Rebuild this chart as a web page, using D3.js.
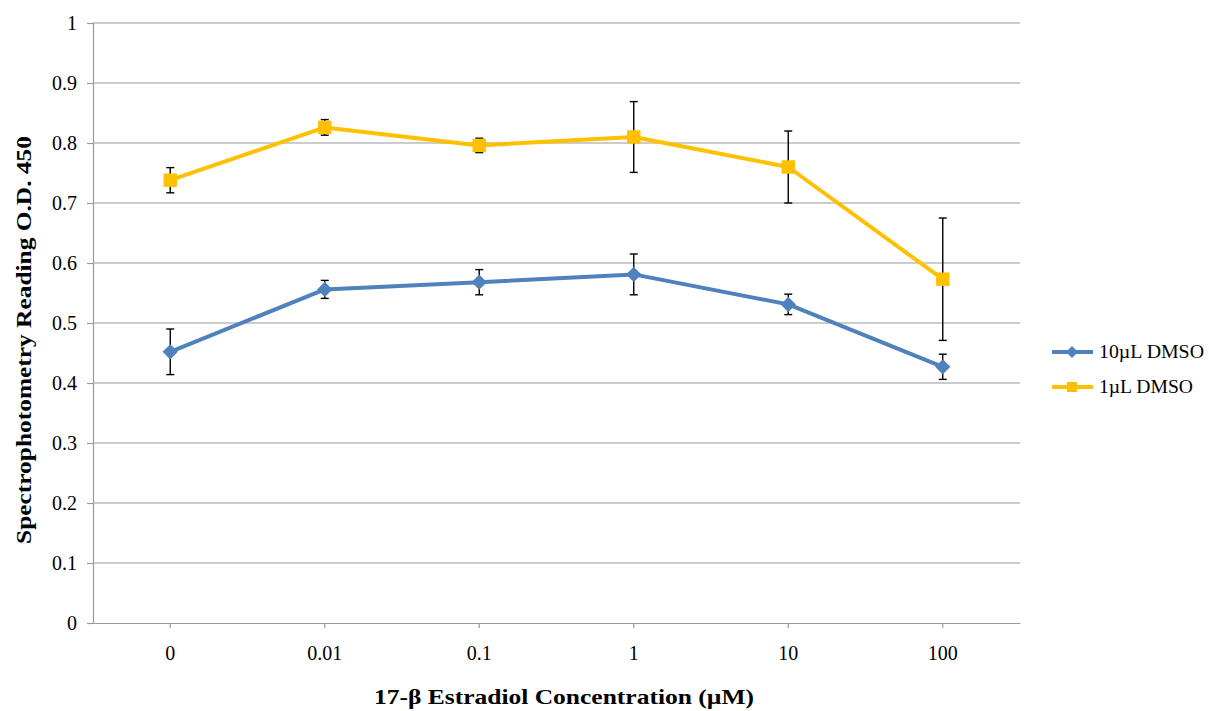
<!DOCTYPE html>
<html>
<head>
<meta charset="utf-8">
<script src="https://cdn.jsdelivr.net/npm/d3@7"></script>
<style>
  body { margin: 0; background: #fff; }
  svg text { font-family: "Liberation Serif", "Times New Roman", serif; fill: #000; }
</style>
</head>
<body>
<div id="chart"></div>
<script>
// Data
const categories = ['0', '0.01', '0.1', '1', '10', '100'];
const dmso10 = [0.452, 0.556, 0.568, 0.581, 0.531, 0.427];
const dmso10Err = [0.038, 0.015, 0.021, 0.034, 0.017, 0.021];
const dmso1 = [0.738, 0.826, 0.796, 0.810, 0.760, 0.573];
const dmso1Err = [0.021, 0.013, 0.012, 0.059, 0.060, 0.102];
const yTicks = [0, 0.1, 0.2, 0.3, 0.4, 0.5, 0.6, 0.7, 0.8, 0.9, 1];

const series = [
  { name: '10\u00b5L DMSO', values: dmso10, errors: dmso10Err, color: '#4F81BD', marker: 'diamond', textLen: 105 },
  { name: '1\u00b5L DMSO', values: dmso1, errors: dmso1Err, color: '#FFC000', marker: 'square', textLen: 94 }
];

const width = 1209, height = 711;
const margin = { top: 23, right: 189, bottom: 88, left: 93 };
const innerW = width - margin.left - margin.right;
const innerH = height - margin.top - margin.bottom;

const svg = d3.select('#chart').append('svg')
  .attr('width', width)
  .attr('height', height);

const g = svg.append('g')
  .attr('transform', `translate(${margin.left},${margin.top})`);

const x = d3.scaleBand().domain(categories).range([0, innerW]);
const y = d3.scaleLinear().domain([0, 1]).range([innerH, 0]);

// gridlines
g.selectAll('line.grid')
  .data(yTicks.slice(1))
  .enter().append('line')
  .attr('class', 'grid')
  .attr('x1', 0).attr('x2', innerW)
  .attr('y1', d => y(d)).attr('y2', d => y(d))
  .attr('stroke', '#9a9a9a').attr('stroke-width', 1.2);

// y axis
const yAxis = g.append('g')
  .call(d3.axisLeft(y).tickValues(yTicks).tickSize(6).tickPadding(10).tickFormat(d3.format('')));
yAxis.select('.domain').attr('stroke', '#9a9a9a').attr('stroke-width', 1.2);
yAxis.selectAll('.tick line').attr('stroke', '#9a9a9a').attr('stroke-width', 1.2);
yAxis.selectAll('.tick text').attr('font-size', 20).attr('font-family', '"Liberation Serif", serif');

// x axis
const xAxis = g.append('g')
  .attr('transform', `translate(0,${innerH})`)
  .call(d3.axisBottom(x).tickSize(5).tickPadding(18).tickSizeOuter(0));
xAxis.select('.domain').attr('stroke', '#9a9a9a').attr('stroke-width', 1.2);
xAxis.selectAll('.tick line').attr('stroke', '#9a9a9a').attr('stroke-width', 1.2);
xAxis.selectAll('.tick text').attr('font-size', 20).attr('font-family', '"Liberation Serif", serif');

// axis titles
svg.append('text')
  .attr('x', 564)
  .attr('y', 704)
  .attr('text-anchor', 'middle')
  .attr('font-size', 21)
  .attr('font-weight', 'bold')
  .attr('textLength', 380)
  .attr('lengthAdjust', 'spacingAndGlyphs')
  .text('17-\u03b2 Estradiol Concentration (\u00b5M)');

svg.append('text')
  .attr('transform', 'translate(31,340) rotate(-90)')
  .attr('text-anchor', 'middle')
  .attr('font-size', 21)
  .attr('font-weight', 'bold')
  .attr('textLength', 408)
  .attr('lengthAdjust', 'spacingAndGlyphs')
  .text('Spectrophotometry Reading O.D. 450');

const cx = c => x(c) + x.bandwidth() / 2;
const line = d3.line().x(d => cx(d.c)).y(d => y(d.v));

const diamond = d3.symbol().type(d3.symbolDiamond2).size(150);
const square = d3.symbol().type(d3.symbolSquare2).size(230);

series.forEach(s => {
  const pts = categories.map((c, i) => ({ c, v: s.values[i], e: s.errors[i] }));

  g.append('path')
    .datum(pts)
    .attr('fill', 'none')
    .attr('stroke', s.color)
    .attr('stroke-width', 4)
    .attr('stroke-linejoin', 'round')
    .attr('d', line);

  // error bars
  const eb = g.append('g').attr('stroke', '#000').attr('stroke-width', 1.4);
  pts.forEach(p => {
    const px = cx(p.c);
    eb.append('line').attr('x1', px).attr('x2', px).attr('y1', y(p.v + p.e)).attr('y2', y(p.v - p.e));
    eb.append('line').attr('x1', px - 4).attr('x2', px + 4).attr('y1', y(p.v + p.e)).attr('y2', y(p.v + p.e));
    eb.append('line').attr('x1', px - 4).attr('x2', px + 4).attr('y1', y(p.v - p.e)).attr('y2', y(p.v - p.e));
  });

  g.selectAll(null)
    .data(pts)
    .enter().append('path')
    .attr('transform', d => `translate(${cx(d.c)},${y(d.v)})`)
    .attr('d', s.marker === 'diamond' ? diamond() : square())
    .attr('fill', s.color);
});

// legend
const legend = svg.append('g').attr('transform', 'translate(1052,352)');
series.forEach((s, i) => {
  const row = legend.append('g').attr('transform', `translate(0,${i * 35})`);
  row.append('line').attr('x1', 0).attr('x2', 41).attr('y1', 0).attr('y2', 0)
    .attr('stroke', s.color).attr('stroke-width', 4);
  row.append('path')
    .attr('transform', 'translate(20,0)')
    .attr('d', s.marker === 'diamond' ? d3.symbol().type(d3.symbolDiamond2).size(90)() : d3.symbol().type(d3.symbolSquare2).size(130)())
    .attr('fill', s.color);
  row.append('text').attr('x', 47).attr('y', 6).attr('font-size', 18)
    .attr('textLength', s.textLen).attr('lengthAdjust', 'spacingAndGlyphs')
    .text(s.name);
});
</script>
</body>
</html>
